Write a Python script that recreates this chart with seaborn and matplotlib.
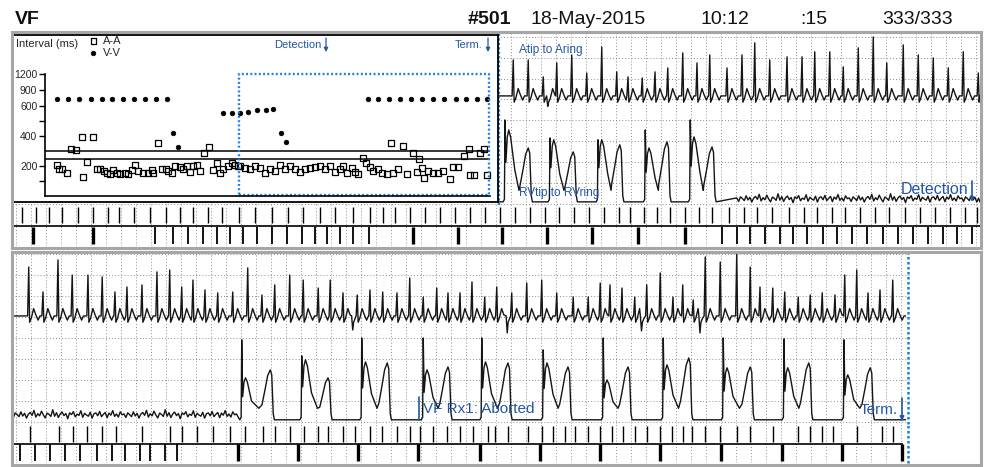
import numpy as np
import matplotlib
matplotlib.use("Agg")
import matplotlib.pyplot as plt
from matplotlib import font_manager
from matplotlib.patches import Rectangle
import seaborn as sns

# ---------------- episode header ----------------
HEADER_TEXT = ["VF", "#501", "18-May-2015", "10:12", ":15", "333/333"]
HEADER_BOLD = [True, True, False, False, False, False]

# ---------------- interval plot (episode time s, interval ms) ----------------
AA_TIME = [1.2, 1.4, 1.7, 2.2, 2.6, 3.1, 3.7, 3.8, 4.2, 4.8,
           5.2, 5.5, 5.9, 6.2, 6.5, 6.8, 7.2, 7.5, 8.0, 8.3,
           8.7, 9.0, 9.3, 9.8, 10.3, 10.7, 10.8, 11.3, 11.7, 12.1,
           12.3, 12.7, 13.0, 13.5, 13.8, 14.2, 14.5, 14.8, 15.2, 15.5,
           15.9, 16.4, 16.8, 17.2, 17.5, 17.8, 18.3, 18.7, 19.0, 19.3,
           19.5, 20.0, 20.5, 21.0, 21.5, 22.0, 22.5, 23.0, 23.5, 24.0,
           24.5, 25.0, 25.5, 26.0, 26.5, 27.0, 27.5, 28.0, 28.5, 29.0,
           29.5, 29.8, 30.2, 30.7, 31.0, 31.3, 31.8, 32.1, 32.5, 32.8,
           33.3, 33.7, 34.2, 34.6, 34.8, 35.3, 35.8, 36.2, 36.8, 37.2,
           37.4, 37.7, 37.9, 38.3, 38.8, 39.3, 39.8, 40.5, 40.8, 41.3,
           41.9, 42.4, 42.5, 42.9, 43.5, 43.9, 44.2]
AA_MS = [207, 180, 180, 153, 313, 307, 393, 127, 227, 393,
         180, 180, 167, 153, 147, 173, 153, 147, 153, 147,
         173, 207, 167, 153, 153, 173, 153, 353, 180, 180,
         167, 153, 200, 193, 180, 200, 160, 200, 207, 167,
         287, 327, 173, 220, 153, 180, 200, 220, 207, 200,
         200, 187, 180, 200, 187, 153, 180, 167, 207, 180,
         200, 180, 160, 180, 187, 193, 200, 180, 200, 160,
         180, 200, 153, 187, 160, 147, 253, 220, 193, 167,
         180, 153, 147, 353, 153, 180, 333, 147, 287, 160,
         247, 187, 120, 167, 153, 153, 167, 113, 193, 193,
         267, 313, 140, 140, 287, 313, 140]
VV_TIME = [1.2, 2.3, 3.4, 4.6, 5.7, 6.7, 7.8, 8.9, 10.0, 11.1, 12.2,
           12.8, 13.3, 17.8, 18.7, 19.5, 20.3, 21.2, 22.1, 22.8, 23.6, 24.1,
           32.3, 33.3, 34.4, 35.5, 36.6, 37.7, 38.8, 39.9, 41.1, 42.1, 43.2, 44.2]
VV_MS = [740, 740, 740, 740, 740, 740, 740, 740, 740, 740, 740,
         420, 330, 553, 553, 553, 560, 573, 573, 580, 420, 360,
         740, 740, 740, 740, 740, 740, 740, 740, 740, 740, 740, 740]
ZONE_MS = [300, 250]
DETECT_WINDOW_S = [19.4, 44.4]
INTERVAL_TICKS = [100, 200, 400, 500, 600, 900, 1200]
INTERVAL_LABELS = ["", "200", "400", "", "600", "900", "1200"]

# ---------------- strip 1 (upper) : time s, amplitude mV ----------------
S1_START, S1_END = 6.44, 12.85
A1_SPIKE_T = [6.63, 6.83, 7.03, 7.09, 7.21, 7.41, 7.61, 7.81, 8.01, 8.16, 8.35,
              8.52, 8.69, 8.89, 9.08, 9.25, 9.48, 9.68, 9.85, 10.05, 10.28,
              10.48, 10.65, 10.85, 11.03, 11.23, 11.43, 11.61, 11.83, 12.03,
              12.23, 12.43, 12.63, 12.83]
A1_SPIKE_MV = [1.72, 1.72, 0.91, -0.5, 1.58, 1.96, 1.10, 2.34, 1.15, 0.91, 0.86,
               1.15, 1.34, 2.06, 1.58, 1.96, 1.34, 1.96, 2.54, 1.72, 1.87,
               1.87, 2.11, 2.11, 1.39, 2.30, 2.82, 1.58, 2.44, 1.96,
               1.82, 1.34, 2.11, 1.10]
V1_SPIKE_T = [6.52, 7.12, 7.76, 8.39, 8.99]
V1_SPIKE_MV = [3.92, 3.06, 2.97, 3.44, 3.92]
V1_HUMP1_MV = [3.44, 2.97, 2.97, 2.58, 3.11]
V1_HUMP2_T = [6.83, 7.43, 8.05, 8.68, 9.28]
V1_HUMP2_MV = [2.58, 2.39, 2.73, 2.87, 2.63]
V1_FIB = [9.61, 12.86]
A1_MARK = [0.08, 0.27, 0.44, 0.61, 0.83, 1.03, 1.23, 1.37, 1.57, 1.79, 2.00,
           2.19, 2.36, 2.56, 2.75, 2.97, 3.19, 3.41, 3.63, 3.83, 4.05, 4.25,
           4.49, 4.72, 4.89, 5.05, 5.25, 5.45, 5.65, 5.85, 6.05, 6.25, 6.45,
           6.65, 6.85, 7.05, 7.24, 7.44, 7.64, 7.84, 8.04, 8.19, 8.37, 8.55,
           8.72, 8.92, 9.11, 9.28, 9.51, 9.71, 9.88, 10.08, 10.31, 10.51,
           10.68, 10.88, 11.05, 11.25, 11.45, 11.64, 11.85, 12.05, 12.25,
           12.45, 12.65, 12.81]
V1_MARK_BIG = [0.23, 1.03, 5.29, 5.89, 6.48, 7.08, 7.68, 8.29, 8.92]
V1_MARK_FIB = [1.85, 2.09, 2.29, 2.49, 2.68, 2.85, 3.03, 3.21, 3.41, 3.61,
               3.81, 3.99, 4.15, 4.32, 4.49, 4.71, 9.41, 9.61, 9.79, 9.99,
               10.19, 10.36, 10.55, 10.76, 10.95, 11.15, 11.35, 11.56, 11.76,
               11.96, 12.16, 12.36, 12.55, 12.75]

# ---------------- strip 2 (lower) ----------------
S2_START, S2_END = -0.05, 11.86
A2_SPIKE_T = [0.17, 0.36, 0.56, 0.75, 0.96, 1.15, 1.32, 1.48, 1.68, 1.88,
              2.05, 2.21, 2.36, 2.52, 2.69, 2.89, 3.09, 3.28, 3.45, 3.65,
              3.83, 4.03, 4.19, 4.36, 4.49, 4.55, 4.72, 4.89, 5.08, 5.25,
              5.43, 5.61, 5.76, 5.92, 6.08, 6.25, 6.41, 6.55, 6.61, 6.81,
              7.01, 7.21, 7.43, 7.63, 7.79, 7.92, 8.08, 8.25, 8.34, 8.41,
              8.59, 8.76, 8.89, 9.03, 9.12, 9.19, 9.39, 9.61, 9.79, 9.92,
              10.09, 10.25, 10.43, 10.59, 10.75, 10.92, 11.05, 11.21, 11.36,
              11.52, 11.69]
A2_SPIKE_MV = [2.33, 1.14, 2.67, 1.95, 1.95, 1.86, 1.14, 1.38, 1.48, 2.10,
               2.19, 1.38, 1.71, 1.24, 1.10, 1.14, 2.29, 1.00, 1.48, 1.95,
               1.71, 1.33, 1.71, 1.10, -0.67, 1.00, 1.24, 1.14, 1.10, 1.81,
               0.90, 1.33, 1.10, 1.10, 1.62, 0.90, 1.38, -0.81, 1.10, 1.57,
               1.71, 1.10, 0.90, 0.90, 1.57, 1.48, 1.33, 0.90, -0.71, 1.48,
               2.05, 0.90, 1.48, 0.76, -0.81, 2.81, 2.57, 3.00, 2.33, 1.38,
               1.33, 1.14, 0.90, 1.00, 1.10, 1.00, 1.95, 2.19, 1.10,
               1.24, 1.71]
V2_SPIKE_T = [3.01, 3.81, 4.61, 5.43, 6.21, 7.03, 7.83, 8.63, 9.43, 10.24, 11.04]
V2_SPIKE_MV = [3.81, 3.05, 3.90, 3.90, 3.90, 3.33, 3.90, 3.90, 3.90, 3.86, 3.81]
V2_HUMP1_MV = [2.00, 2.86, 2.76, 2.38, 2.76, 2.71, 1.90, 2.62, 2.48, 2.48, 2.14]
V2_HUMP2_T = [3.39, 4.16, 4.95, 5.76, 6.56, 7.36, 8.16, 8.97, 9.79, 10.57, 11.39]
V2_HUMP2_MV = [2.38, 2.00, 2.71, 2.52, 2.71, 2.52, 2.52, 2.95, 2.52, 2.71, 2.48]
V2_FIB = [-0.06, 2.98]
A2_MARK = [0.19, 0.57, 0.76, 0.95, 1.15, 1.33, 1.68, 2.05, 2.21, 2.41, 2.63,
           2.85, 3.05, 3.29, 3.45, 3.65, 3.84, 4.03, 4.16, 4.36, 4.52, 4.72,
           4.88, 5.08, 5.25, 5.39, 5.56, 5.75, 5.92, 6.09, 6.29, 6.39, 6.56,
           6.83, 7.01, 7.16, 7.32, 7.45, 7.63, 7.79, 7.95, 8.09, 8.25, 8.41,
           8.59, 8.75, 8.89, 9.01, 9.19, 9.39, 9.61, 9.79, 10.09, 10.43,
           10.59, 10.75, 10.89, 11.21, 11.55, 11.69]
V2_MARK_BIG = [2.96, 3.76, 4.56, 5.36, 6.19, 6.99, 7.79, 8.59, 9.40, 10.21,
               11.01, 11.81]
V2_MARK_FIB = [0.05, 0.25, 0.45, 0.65, 0.85, 1.08, 1.28, 1.45, 1.65, 1.79,
               1.99, 2.15]
TERM_T = 11.89

# fine fibrillation wiggle (mV)
FIB_NOISE = [0.05, -0.12, 0.10, 0.02, -0.08, 0.15, -0.05, 0.08, -0.15, 0.04,
             0.12, -0.02, 0.22, -0.10, 0.06, -0.04, 0.18, 0.00, -0.14, 0.09,
             0.03, -0.07, 0.25, -0.06, 0.11, -0.12, 0.05, 0.14, -0.03, 0.07,
             -0.18, 0.10, 0.02, 0.16, -0.09, 0.04, -0.02, 0.20, -0.11, 0.08,
             0.00, -0.06, 0.13, -0.15, 0.06, 0.10, -0.04, 0.17, -0.08, 0.03,
             0.12, -0.13, 0.09, -0.01, 0.21, -0.07, 0.05, -0.10, 0.15, 0.01]

# atrial deflection template (index 1 = spike tip)
A_SHAPE_DT = [-0.015, 0.0, 0.012, 0.035, 0.065, 0.095, 0.125, 0.15]
A_SHAPE_MV = [0.0, 1.0, -0.3, -0.1, 0.35, 0.05, -0.2, 0.0]

BLUE_TXT = "#2356a8"
BLUE_DOT = "#1a7ee0"
GRID = "#8c8c8c"

sns.set_style("white")
_names = {f.name for f in font_manager.fontManager.ttflist}
NARROW = "Liberation Sans Narrow" if "Liberation Sans Narrow" in _names else "Liberation Sans"
plt.rcParams["font.family"] = [NARROW, "DejaVu Sans"]

W, H = 986, 467
fig = plt.figure(figsize=(W / 100, H / 100), dpi=100)


def px_axes(x0, y0, x1, y1, **kw):
    return fig.add_axes([x0 / W, 1 - y1 / H, (x1 - x0) / W, (y1 - y0) / H], **kw)


def strip_axes(x0, y0, x1, y1, xlim, ylim, hgrid):
    ax = px_axes(x0, y0, x1, y1)
    ax.set_xlim(*xlim)
    ax.set_ylim(*ylim)
    ax.set_xticks(np.arange(0, xlim[1] - 0.02, 0.2))
    ax.set_yticks(np.arange(0, ylim[1], 1.0) if hgrid else [])
    ax.grid(True, color=GRID, lw=0.7, ls=(0, (1, 2.2)))
    ax.tick_params(length=0, labelbottom=False, labelleft=False)
    for s in ax.spines.values():
        s.set_visible(False)
    ax.set_facecolor("none")
    return ax


def atrial_trace(t0, t1, times, amps):
    xs, ys = [t0], [0.0]
    for i, (t, a) in enumerate(zip(times, amps)):
        stop = times[i + 1] - 0.016 if i + 1 < len(times) else t1
        for k, (dt, v) in enumerate(zip(A_SHAPE_DT, A_SHAPE_MV)):
            x = t + dt
            if x > xs[-1] and (x < stop or k == 1):
                xs.append(x)
                ys.append(a if k == 1 else v)
    if t1 > xs[-1]:
        xs.append(t1)
        ys.append(0.0)
    return np.array(xs), np.array(ys)


def ventricular_trace(t0, t1, fib, fib_level, spikes, s_mv, h1_mv, h2_t, h2_mv):
    pts = [(t0, 0.0), (t1, 0.0)]
    for t, s, h1, t2, h2 in zip(spikes, s_mv, h1_mv, h2_t, h2_mv):
        tt = t + 0.6 * (t2 - t)
        xs = [t - 0.025, t - 0.008, t, t + 0.012, t + 0.03, t + 0.05, t + 0.075,
              t + 0.1, t + 0.13, tt, t2 - 0.11, t2 - 0.07, t2 - 0.035, t2,
              t2 + 0.02, t2 + 0.04, t2 + 0.055]
        ys = [0, 0.12, s, 0.55 * h1, 0.9 * h1, h1, 0.9 * h1, 0.7 * h1,
              0.45 * h1, 0.55, 0.3 * h2, 0.6 * h2, 0.88 * h2, h2,
              0.9 * h2, 0.3, 0]
        pts += list(zip(xs, ys))
    fx = np.arange(fib[0], fib[1], 0.025)
    fy = fib_level + np.resize(FIB_NOISE, len(fx))
    pts += list(zip(fx, fy))
    pts = [p for p in pts if t0 <= p[0] <= t1]
    pts.sort(key=lambda p: p[0])
    return np.array([p[0] for p in pts]), np.array([p[1] for p in pts])


def draw_trace(ax, x, y, base):
    sns.lineplot(x=x, y=y + base, sort=False, estimator=None, ax=ax,
                 color="#151515", linewidth=1.0)


def marker_rows(ax, a_marks, v_big, v_fib, xend):
    ax.vlines(a_marks, 1.1, 1.9, color="k", lw=1.0)
    ax.vlines(v_fib, 0.1, 0.95, color="k", lw=1.3)
    ax.vlines(v_big, 0.1, 0.95, color="k", lw=2.4)
    ax.hlines(1.0, ax.get_xlim()[0], xend, color="k", lw=1.2)


# ---------- upper strip ----------
ax1 = strip_axes(12, 33, 980, 205, (-0.053, 12.853), (-0.05, 8.18), True)
xa, ya = atrial_trace(S1_START, S1_END, A1_SPIKE_T, A1_SPIKE_MV)
draw_trace(ax1, xa, ya, 5.17)
xv, yv = ventricular_trace(S1_START, S1_END, V1_FIB, 0.14, V1_SPIKE_T, V1_SPIKE_MV,
                           V1_HUMP1_MV, V1_HUMP2_T, V1_HUMP2_MV)
draw_trace(ax1, xv, yv, 0.1)
ax1.axvline(S1_START, color=BLUE_DOT, lw=1.6, ls=(0, (1, 1)))

mk1 = strip_axes(12, 205, 980, 246, (-0.053, 12.853), (0, 2), False)
marker_rows(mk1, A1_MARK, V1_MARK_BIG, V1_MARK_FIB, 12.853)

# ---------- interval plot box ----------
box = px_axes(13, 35, 498, 202)
box.set_xlim(13, 498)
box.set_ylim(202, 35)
box.set_xticks([])
box.set_yticks([])
box.set_facecolor("white")
for s in box.spines.values():
    s.set_color("black")
    s.set_linewidth(1.3)

iv = px_axes(45, 74, 490, 196)
iv.set_facecolor("none")


def fwd(v):
    v = np.asarray(v, dtype=float)
    return np.where(v <= 600, v, 600 + (v - 600) / 2.8)


def inv(u):
    u = np.asarray(u, dtype=float)
    return np.where(u <= 600, u, 600 + (u - 600) * 2.8)


iv.set_yscale("function", functions=(fwd, inv))
iv.set_ylim(0, 1200)
iv.set_xlim(0, 44.5)
for z in ZONE_MS:
    iv.axhline(z, color="black", lw=1.1)
sns.scatterplot(x=AA_TIME, y=AA_MS, marker="s", s=16, facecolor="none",
                edgecolor="black", linewidth=0.9, ax=iv, label="A-A", clip_on=False)
sns.scatterplot(x=VV_TIME, y=VV_MS, marker="o", s=11, color="black",
                edgecolor="black", linewidth=0.5, ax=iv, label="V-V", clip_on=False)
d0, d1 = DETECT_WINDOW_S
iv.plot([d0, d1, d1, d0, d0], [7, 7, 1200, 1200, 7], color=BLUE_DOT, lw=1.7,
        ls=(0, (0.8, 1.0)), clip_on=False)
iv.set_xticks([])
iv.set_yticks(INTERVAL_TICKS)
iv.set_yticklabels(INTERVAL_LABELS)
iv.yaxis.set_minor_locator(matplotlib.ticker.NullLocator())
iv.tick_params(axis="y", left=True, length=4, width=1, color="black",
               labelsize=7.5, pad=1.5)
iv.spines["top"].set_visible(False)
iv.spines["right"].set_visible(False)
for s in ("left", "bottom"):
    iv.spines[s].set_color("black")
    iv.spines[s].set_linewidth(1.2)
iv.set_xlabel("")
iv.set_ylabel("")
iv.legend(loc="upper left", bbox_to_anchor=(89 / W, 1 - 36 / H),
          bbox_transform=fig.transFigure, frameon=False, fontsize=8,
          handlelength=0.8, handletextpad=0.5, labelspacing=0.15,
          borderpad=0, borderaxespad=0)

box.text(16, 44, "Interval (ms)", fontsize=8, va="center", ha="left")
box.text(322, 45, "Detection", fontsize=8, va="center", ha="right", color=BLUE_TXT)
box.annotate("", xy=(326, 52), xytext=(326, 38),
             arrowprops=dict(arrowstyle="-|>", color=BLUE_TXT, lw=0.9,
                             mutation_scale=6, shrinkA=0, shrinkB=0))
box.text(483, 45, "Term.", fontsize=8, va="center", ha="right", color=BLUE_TXT)
box.annotate("", xy=(488, 52), xytext=(488, 38),
             arrowprops=dict(arrowstyle="-|>", color=BLUE_TXT, lw=0.9,
                             mutation_scale=6, shrinkA=0, shrinkB=0))

# ---------- lower strip ----------
ax2 = strip_axes(12, 253, 910, 424, (-0.053, 11.92), (-0.1, 8.05), True)
xa, ya = atrial_trace(S2_START, S2_END, A2_SPIKE_T, A2_SPIKE_MV)
draw_trace(ax2, xa, ya, 5.05)
xv, yv = ventricular_trace(S2_START, S2_END, V2_FIB, 0.23, V2_SPIKE_T, V2_SPIKE_MV,
                           V2_HUMP1_MV, V2_HUMP2_T, V2_HUMP2_MV)
draw_trace(ax2, xv, yv, 0.1)

mk2 = strip_axes(12, 424, 910, 463, (-0.053, 11.92), (0, 2), False)
marker_rows(mk2, A2_MARK, V2_MARK_BIG, V2_MARK_FIB, 11.83)
for a in (ax2, mk2):
    a.axvline(TERM_T, color=BLUE_DOT, lw=1.8, ls=(0, (1, 1)), clip_on=False)

# ---------- overlay: frames and annotations ----------
ov = fig.add_axes([0, 0, 1, 1], facecolor="none")
ov.set_xlim(0, W)
ov.set_ylim(H, 0)
ov.axis("off")
for y0, y1 in ((31.5, 248), (251.5, 465)):
    ov.add_patch(Rectangle((11.5, y0), 969, y1 - y0, fill=False,
                           ec="#a6a6a6", lw=2.2))

hx = [15, 468, 530, 700, 800, 882]
for x, s, b in zip(hx, HEADER_TEXT, HEADER_BOLD):
    ov.text(x, 24, s, fontsize=14, fontweight="bold" if b else "normal",
            ha="left", va="baseline", color="#111111")

ov.text(519, 50, "Atip to Aring", fontsize=8.5, color=BLUE_TXT, va="center")
ov.text(519, 193, "RVtip to RVring", fontsize=8.5, color=BLUE_TXT, va="center")
ov.text(968, 190, "Detection", fontsize=11.5, color=BLUE_TXT, va="center", ha="right")
ov.annotate("", xy=(972, 202), xytext=(972, 181),
            arrowprops=dict(arrowstyle="-|>", color=BLUE_TXT, lw=1.2,
                            mutation_scale=6, shrinkA=0, shrinkB=0))
ov.annotate("", xy=(419, 420), xytext=(419, 397),
            arrowprops=dict(arrowstyle="-", color=BLUE_TXT, lw=1.2,
                            shrinkA=0, shrinkB=0))
ov.text(423, 409, "VF Rx1: Aborted", fontsize=11, color=BLUE_TXT, va="center")
ov.text(898, 410, "Term.", fontsize=11, color=BLUE_TXT, va="center", ha="right")
ov.annotate("", xy=(902, 421), xytext=(902, 398),
            arrowprops=dict(arrowstyle="-|>", color=BLUE_TXT, lw=1.2,
                            mutation_scale=6, shrinkA=0, shrinkB=0))

fig.savefig("out.png", dpi=100)
